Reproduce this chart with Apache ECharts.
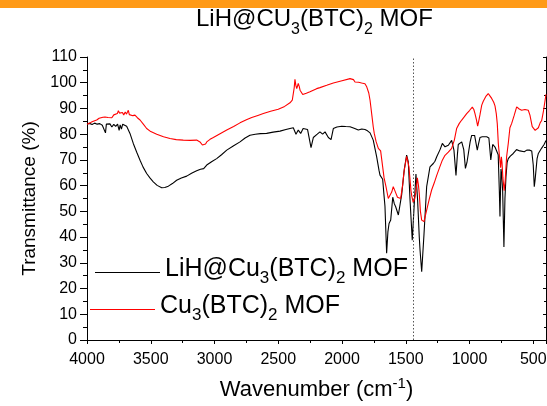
<!DOCTYPE html>
<html>
<head>
<meta charset="utf-8">
<script src="https://cdn.jsdelivr.net/npm/echarts@6/dist/echarts.min.js"></script>
<style>
  html, body { margin: 0; padding: 0; background: #fff; }
  #chart { width: 547px; height: 406px; }
</style>
</head>
<body>
<div id="chart"></div>
<script>
// FTIR spectra: [wavenumber (cm-1), transmittance (%)]
const lihSpectrum = [
  [4000,84.0],[3980,84.2],[3960,83.8],[3940,84.3],[3920,83.9],[3900,84.1],[3880,83.5],[3865,84.2],
  [3855,80.5],[3848,83.9],[3835,83.2],[3820,84.0],[3805,82.8],[3790,83.8],[3775,83.0],[3760,83.9],
  [3748,81.5],[3740,83.6],[3730,82.0],[3720,83.9],[3705,83.5],[3689,83.1],[3663,80.3],[3637,76.4],
  [3610,73.0],[3584,69.9],[3560,67.2],[3532,64.7],[3505,62.9],[3480,61.5],[3450,60.1],[3414,59.2],
  [3390,59.3],[3362,59.8],[3330,60.8],[3297,62.1],[3260,63.0],[3218,63.7],[3180,64.8],[3140,65.8],
  [3110,66.4],[3095,65.8],[3085,66.6],[3061,68.0],[3020,69.4],[2983,70.5],[2945,72.0],[2904,73.8],
  [2850,75.5],[2800,77.0],[2760,78.5],[2722,79.6],[2680,80.0],[2640,80.2],[2591,80.3],[2540,80.8],
  [2486,81.2],[2440,81.8],[2408,82.2],[2382,82.5],[2361,80.0],[2343,81.6],[2324,80.3],[2305,82.2],
  [2290,82.6],[2270,81.8],[2243,74.8],[2225,78.7],[2194,80.0],[2173,80.9],[2160,80.2],[2152,80.0],
  [2133,80.9],[2107,78.7],[2086,77.9],[2068,82.2],[2040,82.8],[2002,83.1],[1970,83.0],[1937,82.9],
  [1900,82.2],[1872,81.6],[1845,82.0],[1820,81.8],[1800,81.3],[1780,80.5],[1755,77.7],[1728,71.2],
  [1710,66.0],[1702,64.1],[1689,63.4],[1681,62.5],[1671,56.5],[1663,52.0],[1650,33.7],[1640,42.0],
  [1631,45.3],[1618,46.6],[1602,55.5],[1590,53.0],[1579,51.8],[1558,48.6],[1532,56.5],[1511,66.5],
  [1493,71.9],[1480,69.2],[1467,55.0],[1449,38.8],[1433,53.1],[1420,64.5],[1407,54.4],[1394,40.0],
  [1388,35.0],[1375,26.5],[1357,41.0],[1336,59.6],[1310,67.3],[1297,68.0],[1284,68.6],[1271,69.5],
  [1257,71.2],[1231,74.0],[1213,76.4],[1192,75.1],[1166,75.7],[1140,77.6],[1122,73.8],[1106,64.0],
  [1095,72.0],[1088,76.0],[1061,77.0],[1045,74.0],[1032,66.7],[1020,69.0],[1009,72.5],[995,77.0],
  [983,79.5],[960,79.5],[951,79.0],[939,73.8],[930,76.0],[918,78.7],[900,79.0],[884,79.0],
  [865,79.0],[848,78.5],[833,70.0],[818,76.0],[800,75.0],[790,74.5],[775,72.0],[766,58.0],
  [761,48.0],[756,60.0],[753,66.5],[748,64.5],[740,58.0],[730,36.2],[722,55.0],[714,63.4],
  [705,69.0],[696,70.5],[680,71.5],[657,72.5],[631,74.0],[617,74.5],[605,73.5],[591,72.8],
  [570,73.2],[551,73.8],[530,73.8],[512,73.5],[500,68.0],[492,59.6],[486,62.0],[470,70.5],
  [460,72.5],[434,74.6],[415,76.0],[400,77.5]
];

const cuSpectrum = [
  [4000,83.9],[3980,84.3],[3960,84.8],[3940,85.2],[3924,85.5],[3905,86.2],[3890,85.8],[3875,86.6],
  [3859,86.7],[3845,87.3],[3835,86.5],[3820,87.2],[3805,86.4],[3790,87.5],[3775,86.8],[3762,88.0],
  [3754,89.1],[3745,88.2],[3735,87.6],[3722,88.4],[3712,87.5],[3700,88.6],[3690,87.8],[3676,89.3],
  [3668,87.6],[3655,88.3],[3640,87.2],[3624,87.4],[3605,86.4],[3584,85.5],[3560,84.0],[3532,82.2],
  [3500,81.0],[3453,80.0],[3400,79.0],[3349,78.3],[3300,77.9],[3245,77.7],[3190,77.6],[3140,77.7],
  [3114,77.0],[3095,75.8],[3082,75.1],[3070,76.2],[3061,77.0],[3035,78.0],[3009,78.7],[2960,80.1],
  [2904,81.6],[2850,83.0],[2800,84.4],[2750,85.6],[2708,86.5],[2660,87.3],[2617,88.0],[2560,88.9],
  [2500,89.7],[2450,90.8],[2408,92.2],[2390,93.2],[2375,98.0],[2369,101.3],[2362,99.0],[2355,97.7],
  [2343,99.7],[2335,98.5],[2329,97.1],[2308,95.4],[2280,95.9],[2251,96.5],[2199,97.7],[2173,98.1],
  [2120,99.0],[2068,99.9],[2000,100.8],[1937,101.6],[1910,101.2],[1898,100.3],[1870,100.2],[1846,99.9],
  [1820,99.6],[1806,98.4],[1790,96.0],[1780,93.2],[1765,87.0],[1755,82.9],[1747,80.3],[1733,77.2],
  [1715,74.5],[1702,73.8],[1697,73.5],[1681,67.3],[1670,63.0],[1655,59.6],[1637,55.0],[1624,55.0],
  [1610,57.5],[1598,59.6],[1590,59.2],[1577,57.0],[1565,55.5],[1551,54.8],[1540,55.0],[1525,60.0],
  [1514,65.3],[1493,71.4],[1480,68.5],[1475,67.3],[1459,58.0],[1453,56.0],[1441,53.4],[1430,55.0],
  [1422,57.0],[1409,63.0],[1400,60.0],[1394,57.0],[1385,50.0],[1375,46.6],[1357,46.0],[1336,50.5],
  [1317,54.5],[1297,58.3],[1277,61.0],[1257,64.0],[1235,67.0],[1213,69.9],[1192,71.8],[1166,73.0],
  [1140,74.5],[1119,77.7],[1101,82.2],[1080,84.2],[1061,85.5],[1040,86.8],[1022,88.0],[1000,89.2],
  [978,90.5],[966,89.6],[957,88.0],[945,85.5],[936,83.1],[928,85.0],[918,87.5],[904,91.3],
  [892,92.8],[870,94.8],[853,95.8],[840,94.9],[826,93.9],[810,92.4],[800,91.0],[790,88.0],
  [782,84.0],[774,76.4],[766,72.0],[756,67.0],[750,71.2],[745,69.0],[738,63.0],[728,58.0],
  [720,62.0],[709,71.2],[696,76.4],[683,82.5],[669,84.2],[649,87.4],[630,90.6],[625,90.6],
  [610,89.8],[591,89.3],[565,89.6],[539,89.3],[526,87.4],[508,82.9],[500,82.5],[485,81.5],
  [473,81.4],[460,82.5],[445,84.5],[434,85.3],[420,89.0],[400,95.5]
];

// Series names and their formatted (sub-scripted) labels
const seriesNames = ['LiH@Cu3(BTC)2 MOF', 'Cu3(BTC)2 MOF'];
const richLabels = {
  'LiH@Cu3(BTC)2 MOF': '{m|LiH@Cu}{s|3}{m|(BTC)}{s|2}{m| MOF}',
  'Cu3(BTC)2 MOF': '{m|Cu}{s|3}{m|(BTC)}{s|2}{m| MOF}'
};
const titleText = '{m|LiH@CU}{s|3}{m|(BTC)}{s|2}{m| MOF}';
const xAxisName = '{m|Wavenumber (cm}{p|-1}{m|)}';
const yAxisName = 'Transmittance (%)';
const markedWavenumber = 1445;

const FONT = 'Liberation Sans';
const INK = '#000';

const chart = echarts.init(document.getElementById('chart'), null, { renderer: 'canvas' });

function legendFor(name, left, top, lift) {
  return {
    data: [name],
    left: left,
    top: top,
    orient: 'vertical',
    icon: 'rect',
    itemWidth: 65,
    itemHeight: 1,
    selectedMode: false,
    formatter: n => richLabels[n],
    textStyle: {
      fontFamily: FONT,
      color: INK,
      padding: [0, 0, lift, 0],
      rich: {
        m: { fontSize: 25, lineHeight: 34, fontFamily: FONT, color: INK },
        s: { fontSize: 17, lineHeight: 12, verticalAlign: 'bottom', fontFamily: FONT, color: INK }
      }
    }
  };
}

const frameAxis = {
  axisLine: { show: true, lineStyle: { color: INK, width: 1 } },
  splitLine: { show: false }
};

const plainNumber = v => String(v);

chart.setOption({
  animation: false,
  backgroundColor: '#fff',
  textStyle: { fontFamily: FONT, color: INK },
  graphic: [{
    type: 'rect',
    silent: true,
    shape: { x: 0, y: 0, width: 547, height: 8 },
    style: { fill: '#FF9A17' }
  }],
  title: {
    text: titleText,
    left: 196,
    top: 1,
    padding: 0,
    textStyle: {
      fontWeight: 'normal',
      rich: {
        m: { fontSize: 24, lineHeight: 37, fontWeight: 'normal', fontFamily: FONT, color: INK },
        s: { fontSize: 16, lineHeight: 12, verticalAlign: 'bottom', fontWeight: 'normal', fontFamily: FONT, color: INK }
      }
    }
  },
  grid: { left: 87, right: 1, top: 57, bottom: 66, containLabel: false, outerBoundsMode: 'none' },
  legend: [
    legendFor(seriesNames[0], 90, 252, 6),
    legendFor(seriesNames[1], 85, 289, 6)
  ],
  xAxis: [
    Object.assign({}, frameAxis, {
      type: 'value',
      position: 'bottom',
      inverse: true,
      min: 400,
      max: 4000,
      splitNumber: 7,
      axisTick: { show: true, inside: false, length: 4, lineStyle: { color: INK } },
      minorTick: { show: true, splitNumber: 2, length: 3, lineStyle: { color: INK } },
      axisLabel: { fontSize: 16, color: INK, fontFamily: FONT, margin: 12, showMinLabel: false, formatter: plainNumber },
      name: xAxisName,
      nameLocation: 'middle',
      nameGap: 36,
      nameTextStyle: {
        rich: {
          m: { fontSize: 22, lineHeight: 28, fontFamily: FONT, color: INK },
          p: { fontSize: 15, lineHeight: 16, verticalAlign: 'top', fontFamily: FONT, color: INK }
        }
      }
    }),
    Object.assign({}, frameAxis, {
      type: 'value',
      position: 'top',
      inverse: true,
      min: 400,
      max: 4000,
      splitNumber: 7,
      axisTick: { show: true, inside: true, length: 3, lineStyle: { color: INK } },
      minorTick: { show: true, splitNumber: 2, length: 2, lineStyle: { color: INK } },
      axisLabel: { show: false }
    })
  ],
  yAxis: [
    Object.assign({}, frameAxis, {
      type: 'value',
      position: 'left',
      min: 0,
      max: 110,
      interval: 10,
      axisTick: { show: true, inside: false, length: 7, lineStyle: { color: INK } },
      minorTick: { show: true, splitNumber: 2, length: 4, lineStyle: { color: INK } },
      axisLabel: { fontSize: 16, color: INK, fontFamily: FONT, margin: 10, formatter: plainNumber },
      name: yAxisName,
      nameLocation: 'middle',
      nameGap: 42,
      nameTextStyle: { fontSize: 19, fontFamily: FONT, color: INK }
    }),
    Object.assign({}, frameAxis, {
      type: 'value',
      position: 'right',
      min: 0,
      max: 110,
      interval: 10,
      axisTick: { show: true, inside: true, length: 3, lineStyle: { color: INK } },
      minorTick: { show: true, splitNumber: 2, length: 2, lineStyle: { color: INK } },
      axisLabel: { show: false }
    })
  ],
  series: [
    {
      name: seriesNames[0],
      type: 'line',
      xAxisIndex: 0,
      yAxisIndex: 0,
      data: lihSpectrum,
      symbol: 'none',
      smooth: false,
      lineStyle: { color: '#000', width: 1.1 },
      itemStyle: { color: '#000' },
      markLine: {
        silent: true,
        symbol: 'none',
        label: { show: false },
        lineStyle: { type: [1.5, 2], color: '#555', width: 1 },
        data: [{ xAxis: markedWavenumber }]
      }
    },
    {
      name: seriesNames[1],
      type: 'line',
      xAxisIndex: 0,
      yAxisIndex: 0,
      data: cuSpectrum,
      symbol: 'none',
      smooth: false,
      lineStyle: { color: '#FF0000', width: 1.1 },
      itemStyle: { color: '#FF0000' }
    }
  ]
});
</script>
</body>
</html>
